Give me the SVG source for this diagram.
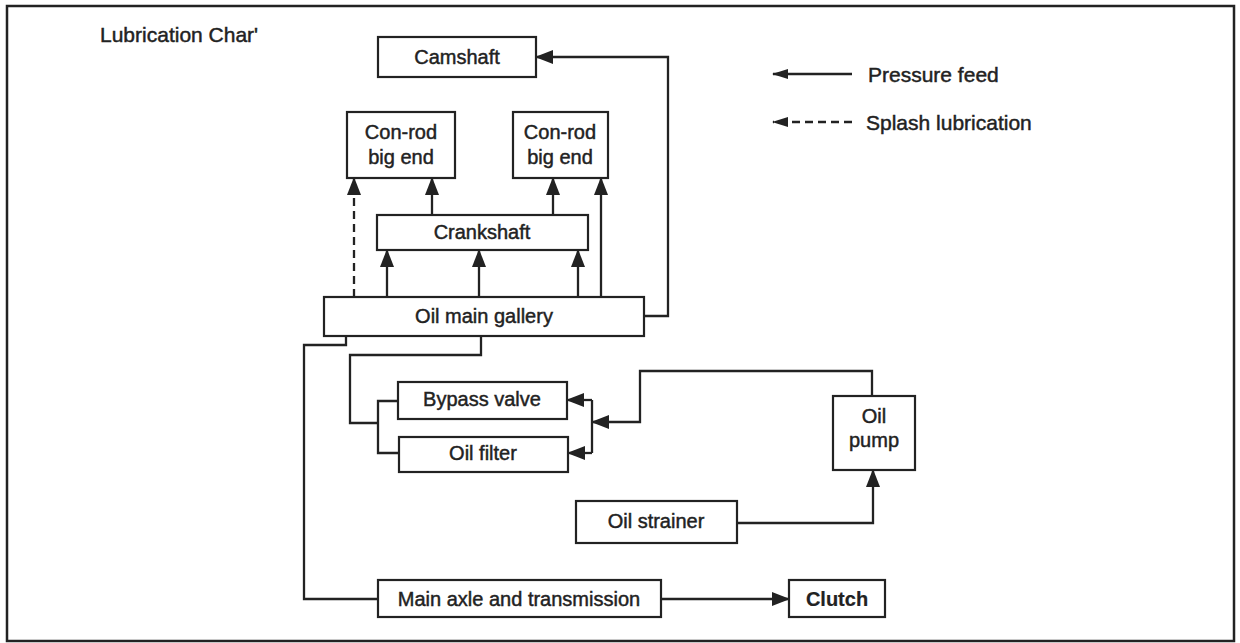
<svg xmlns="http://www.w3.org/2000/svg" width="1240" height="643" viewBox="0 0 1240 643">
<defs>
<marker id="ah" markerUnits="userSpaceOnUse" markerWidth="18" markerHeight="14" refX="17" refY="7" orient="auto">
<path d="M0,0 L18,7 L0,14 z" fill="#222"/>
</marker>
<marker id="ahs" markerUnits="userSpaceOnUse" markerWidth="16" markerHeight="10" refX="15" refY="5" orient="auto">
<path d="M0,0 L16,5 L0,10 z" fill="#222"/>
</marker>
<style>
.box{fill:#fff;stroke:#222;stroke-width:2.2}
.t{font-family:"Liberation Sans",Arial,sans-serif;font-size:20px;fill:#222;stroke:#222;stroke-width:0.45;text-anchor:middle}
.c{fill:none;stroke:#222;stroke-width:2.3}
.a{marker-end:url(#ah)}
.as{marker-end:url(#ahs)}
.d{stroke-dasharray:8,5}
</style>
</defs>
<rect x="0" y="0" width="1240" height="643" fill="#fff"/>
<rect x="7" y="6" width="1227" height="635" fill="none" stroke="#222" stroke-width="2.5"/>
<text x="100" y="42" class="t" style="text-anchor:start;font-size:21px">Lubrication Char'</text>

<g id="legend">
<line x1="852" y1="74" x2="773" y2="74" class="c as"/>
<text x="868" y="82" class="t" style="text-anchor:start;font-size:21px">Pressure feed</text>
<line x1="852" y1="122" x2="773" y2="122" class="c as d"/>
<text x="866" y="130" class="t" style="text-anchor:start;font-size:21px">Splash lubrication</text>
</g>

<g id="connectors">
<path d="M644,316 H668 V57 H536" class="c a"/>
<line x1="354" y1="297" x2="354" y2="178" class="c a d"/>
<line x1="387" y1="297" x2="387" y2="250" class="c a"/>
<line x1="479" y1="297" x2="479" y2="250" class="c a"/>
<line x1="578" y1="297" x2="578" y2="250" class="c a"/>
<line x1="601" y1="297" x2="601" y2="178" class="c a"/>
<line x1="432" y1="215" x2="432" y2="178" class="c a"/>
<line x1="553" y1="215" x2="553" y2="178" class="c a"/>
<path d="M346,336 V345 H304 V599 H378" class="c"/>
<path d="M481,336 V355 H350 V423 H378" class="c"/>
<path d="M398,401 H378 V453 H399" class="c"/>
<path d="M872,396 V371 H640 V422 H592" class="c a"/>
<line x1="592" y1="400" x2="592" y2="453" class="c"/>
<line x1="592" y1="400" x2="567" y2="400" class="c a"/>
<line x1="592" y1="453" x2="568" y2="453" class="c a"/>
<path d="M737,523 H873 V470" class="c a"/>
<line x1="661" y1="599" x2="789" y2="599" class="c a"/>
</g>

<g id="camshaft"><rect x="378" y="37" width="158" height="40" class="box"/><text x="457" y="64" class="t">Camshaft</text></g>
<g id="conrod-left"><rect x="347" y="112" width="108" height="66" class="box"/><text x="401" y="139" class="t">Con-rod</text><text x="401" y="164" class="t">big end</text></g>
<g id="conrod-right"><rect x="513" y="112" width="95" height="66" class="box"/><text x="560" y="139" class="t">Con-rod</text><text x="560" y="164" class="t">big end</text></g>
<g id="crankshaft"><rect x="377" y="215" width="211" height="35" class="box"/><text x="482" y="239" class="t">Crankshaft</text></g>
<g id="gallery"><rect x="324" y="297" width="320" height="39" class="box"/><text x="484" y="323" class="t">Oil main gallery</text></g>
<g id="bypass"><rect x="398" y="382" width="169" height="37" class="box"/><text x="482" y="406" class="t">Bypass valve</text></g>
<g id="filter"><rect x="399" y="437" width="169" height="35" class="box"/><text x="483" y="460" class="t">Oil filter</text></g>
<g id="pump"><rect x="833" y="396" width="82" height="74" class="box"/><text x="874" y="423" class="t">Oil</text><text x="874" y="447" class="t">pump</text></g>
<g id="strainer"><rect x="576" y="501" width="161" height="42" class="box"/><text x="656" y="528" class="t">Oil strainer</text></g>
<g id="axle"><rect x="378" y="580" width="283" height="37" class="box"/><text x="519" y="606" class="t">Main axle and transmission</text></g>
<g id="clutch"><rect x="789" y="580" width="96" height="37" class="box"/><text x="837" y="606" class="t" style="font-weight:bold;stroke-width:0.2">Clutch</text></g>
</svg>
